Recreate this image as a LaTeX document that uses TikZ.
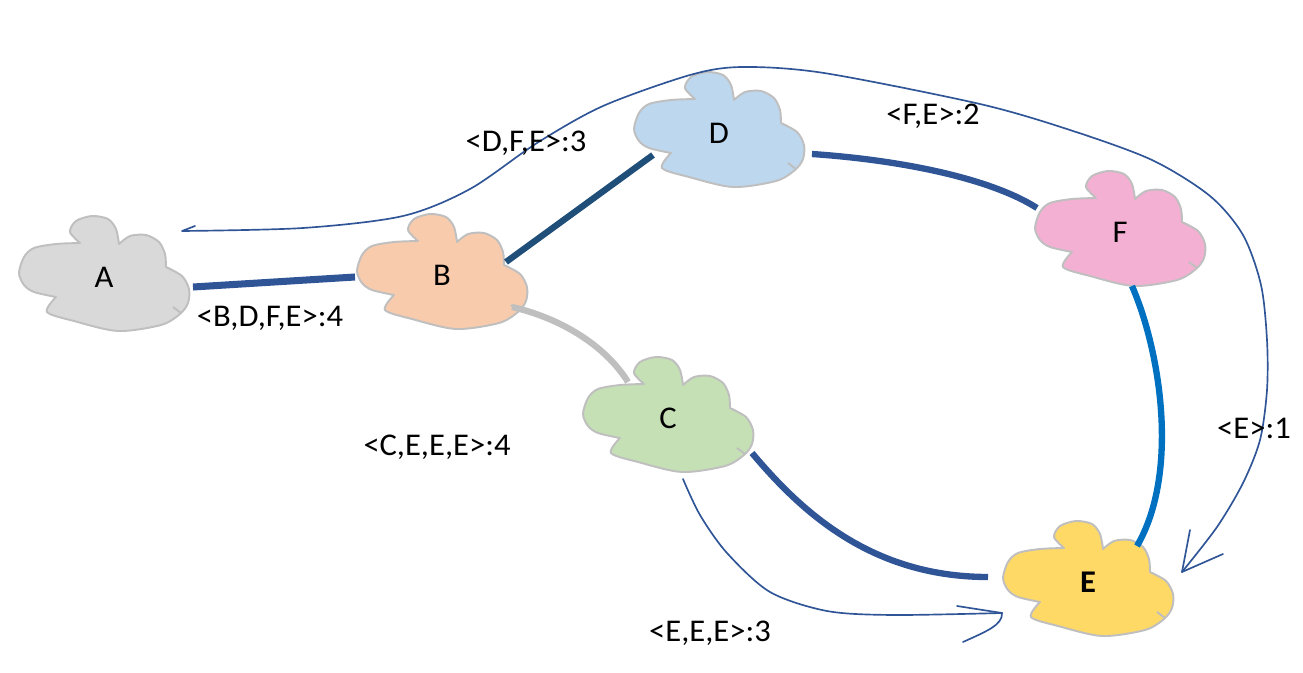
\documentclass[tikz,border=0pt]{standalone}
\usepackage{fontspec}
\setmainfont{Carlito}
\usepackage{graphicx}
\usetikzlibrary{calc}
\definecolor{fillA}{HTML}{D9D9D9}
\definecolor{fillB}{HTML}{F8CBAD}
\definecolor{fillC}{HTML}{C5E0B4}
\definecolor{fillD}{HTML}{BDD7EE}
\definecolor{fillE}{HTML}{FFD966}
\definecolor{fillF}{HTML}{F4B0D3}
\definecolor{outl}{HTML}{BFBFBF}
\definecolor{navy}{HTML}{2F5597}
\definecolor{deepnavy}{HTML}{1F4E79}
\definecolor{brightblue}{HTML}{0070C0}
\newcommand{\wtxt}[1]{\scalebox{1.03}[1]{#1}}
\begin{document}
\begin{tikzpicture}[x=0.02cm,y=-0.02cm,
  blobline/.style={draw=outl,line width=1.1pt,line join=round},
  pics/blob/.style={code={
    \draw[blobline,fill=#1]
      plot[smooth] coordinates {(-48,22) (-70,17) (-80,10) (-85,-2) (-80,-18) (-70,-27) (-48,-31) (-24,-32)}
      -- plot[smooth] coordinates {(-24,-32) (-34,-43) (-28,-54) (-12,-59) (4,-56) (12,-46) (15,-31)}
      -- plot[smooth] coordinates {(15,-31) (26,-39) (42,-40) (55,-33) (61,-21) (62,-8)}
      -- plot[smooth] coordinates {(62,-8) (78,1) (85,14) (84,28) (76,39) (57,50) (14,56) (-30,46) (-57,37) (-48,22)}
      -- cycle;
    \draw[blobline] (69,32) -- (77,38);
  }},
  lettr/.style={font=\fontsize{18}{21}\selectfont,inner sep=0pt},
  lbl/.style={font=\fontsize{18}{21}\selectfont,inner sep=0pt},
  thick link/.style={line width=3.6pt},
  thin arrow/.style={draw=navy,line width=0.95pt,line cap=round,line join=round}
]
\useasboundingbox (0,0) rectangle (1303,673);

% clouds
\pic at (104,275) {blob=fillA};
\pic at (442,273) {blob=fillB};
\pic at (719,131) {blob=fillD};
\pic at (1120,230) {blob=fillF};
\pic at (668,416) {blob=fillC};
\pic at (1088,580) {blob=fillE};

% cloud labels
\node[lettr] (A) at (104,277) {\wtxt{A}};
\node[lettr] (B) at (442,275) {\wtxt{B}};
\node[lettr] (D) at (719,133) {\wtxt{D}};
\node[lettr] (F) at (1120,232) {\wtxt{F}};
\node[lettr] (C) at (668,418) {\wtxt{C}};
\node[lettr] (E) at (1088,582) {\wtxt{\bfseries E}};

% thick links
\draw[thick link,draw=navy,line width=4pt] ($(A)+(89,10)$) -- ($(B)+(-87,2)$);
\draw[thick link,draw=deepnavy] ($(B)+(64,-13)$) -- ($(D)+(-66,22)$);
\draw[thick link,draw=navy] ($(D)+(93,21)$) .. controls +(88,6) and +(-47,-30) .. ($(F)+(-83,-24)$);
\draw[thick link,draw=brightblue] ($(F)+(12,54)$) .. controls +(28,64) and +(43,-74) .. ($(E)+(49,-36)$);
\draw[thick link,draw=outl] ($(B)+(70,32)$) .. controls +(48,11) and +(-23,-37) .. ($(C)+(-40,-36)$);
\draw[thick link,draw=navy] ($(C)+(84,35)$) .. controls +(48,57) and +(-118,0) .. ($(E)+(-100,-5)$);

% thin hand-drawn arrows
\coordinate (loopT) at ($(A)+(91,-51)$);
\coordinate (loopS) at ($(A)+(78,-46)$);
\coordinate (loopE) at ($(E)+(94,-10)$);
\draw[thin arrow] (loopT) -- plot[smooth] coordinates {(loopS) (303,228) (403,216) (470,189) (537,143) (603,106) (690,75) (742,67) (824,73) (980,104) (1070,130) (1152,160) (1210,196) (1243,235) (1261,285) (1267,340) (1267,390) (1260,440) (1243,483) (1217,527) (loopE)};
\draw[thin arrow] ($(loopE)+(8,-42)$) -- (loopE) -- ($(loopE)+(41,-18)$);

\coordinate (botS) at ($(C)+(15,61)$);
\coordinate (botE) at ($(E)+(-86,31)$);
\draw[thin arrow] plot[smooth] coordinates {(botS) (700,515) (727,553) (770,592) (827,611) (893,615) (botE)};
\draw[thin arrow] ($(botE)+(-45,-7)$) -- (botE);
\draw[thin arrow] ($(botE)+(-39,29)$) .. controls +(22,-10) and +(1,12) .. (botE);

% path labels
\node[lbl] (lBDFE) at (270,318) {\wtxt{<B,D,F,E>:4}};
\node[lbl] (lDFE) at (526,143) {\wtxt{<D,F,E>:3}};
\node[lbl] (lFE) at (933,116) {\wtxt{<F,E>:2}};
\node[lbl] (lE) at (1254,428) {\wtxt{<E>:1}};
\node[lbl] (lCEEE) at (437,447) {\wtxt{<C,E,E,E>:4}};
\node[lbl] (lEEE) at (710,633) {\wtxt{<E,E,E>:3}};
\end{tikzpicture}
\end{document}
